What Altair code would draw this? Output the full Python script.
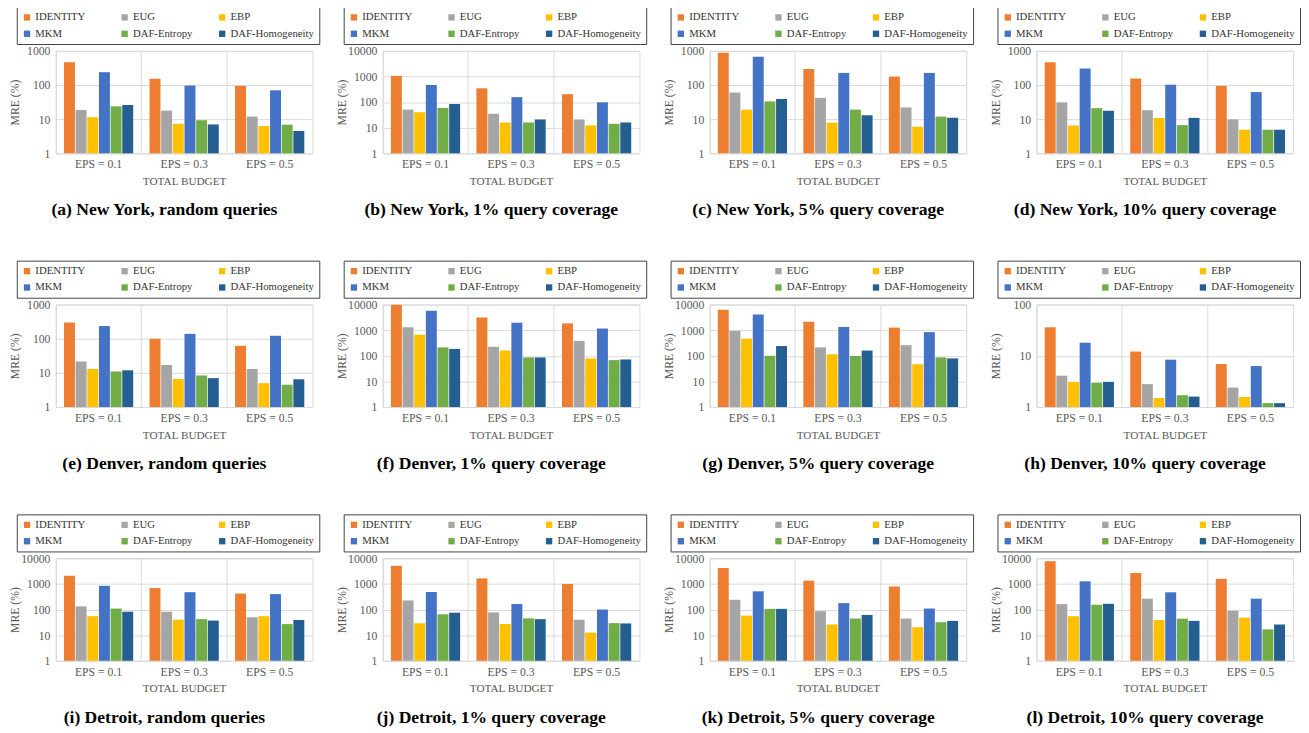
import math
import altair as alt
import pandas as pd

METHODS = ["IDENTITY", "EUG", "EBP", "MKM", "DAF-Entropy", "DAF-Homogeneity"]
COLORS = ["#ED7D31", "#A5A5A5", "#FFC000", "#4472C4", "#70AD47", "#255E91"]
EPS = ["EPS = 0.1", "EPS = 0.3", "EPS = 0.5"]

# rows: EPS = 0.1 / 0.3 / 0.5 ; columns: METHODS order
ny_random = [[460, 18.6, 11.4, 237, 23.7, 26.0], [152, 17.8, 7.3, 96, 9.3, 7.0], [94, 11.9, 6.3, 70, 6.9, 4.5]]
ny_1 = [[1050, 51, 40, 464, 59, 84], [345, 35, 16, 156, 16, 21], [203, 21, 12.4, 98, 14.2, 16]]
ny_5 = [[877, 60, 19, 675, 33, 39], [295, 42, 7.9, 226, 19, 13], [177, 22, 6.0, 226, 11.9, 11]]
ny_10 = [[462, 31, 6.5, 303, 21, 17.6], [155, 18.3, 10.9, 102, 6.7, 10.9], [94, 9.8, 4.9, 62, 4.9, 4.9]]
den_random = [[299, 21.5, 13, 235, 11, 11.9], [100, 17, 6.6, 139, 8.4, 7.0], [62, 13, 5.0, 122, 4.5, 6.5]]
den_1 = [[9800, 1300, 665, 5700, 213, 185], [3100, 226, 160, 1950, 86, 86], [1840, 383, 79, 1160, 68, 72]]
den_5 = [[6300, 945, 470, 4060, 100, 240], [2130, 213, 116, 1340, 98, 160], [1260, 260, 47, 840, 86, 79]]
den_10 = [[36, 4.1, 3.1, 18, 3.0, 3.1], [12.1, 2.8, 1.5, 8.4, 1.7, 1.6], [6.9, 2.4, 1.57, 6.3, 1.19, 1.19]]
det_random = [[2100, 133, 55, 840, 109, 82], [690, 82, 40, 475, 42, 37], [420, 50, 55, 400, 27, 39]]
det_1 = [[5100, 226, 29, 482, 65, 75], [1640, 77, 27, 164, 45, 42], [1000, 40, 12.6, 100, 29.5, 28.6]]
det_5 = [[4150, 240, 58, 513, 106, 106], [1340, 86, 26, 178, 44.5, 61], [793, 44.5, 20.4, 109, 32, 36]]
det_10 = [[7700, 163, 55, 1260, 154, 167], [2640, 265, 39, 470, 44, 36], [1580, 89, 48, 265, 16.8, 26]]

PANELS = [
    (ny_random, 1000, "(a) New York, random queries"),
    (ny_1, 10000, "(b) New York, 1% query coverage"),
    (ny_5, 1000, "(c) New York, 5% query coverage"),
    (ny_10, 1000, "(d) New York, 10% query coverage"),
    (den_random, 1000, "(e) Denver, random queries"),
    (den_1, 10000, "(f) Denver, 1% query coverage"),
    (den_5, 10000, "(g) Denver, 5% query coverage"),
    (den_10, 100, "(h) Denver, 10% query coverage"),
    (det_random, 10000, "(i) Detroit, random queries"),
    (det_1, 10000, "(j) Detroit, 1% query coverage"),
    (det_5, 10000, "(k) Detroit, 5% query coverage"),
    (det_10, 10000, "(l) Detroit, 10% query coverage"),
]

SERIF = "Liberation Serif"


def panel(values, top, caption):
    rows = []
    for e, vals in zip(EPS, values):
        for m, v in zip(METHODS, vals):
            rows.append({"eps": e, "method": m, "v": v})
    df = pd.DataFrame(rows)
    ticks = [10 ** k for k in range(int(round(math.log10(top))) + 1)]
    return alt.Chart(df).mark_bar().encode(
        x=alt.X("eps:N", sort=EPS,
                scale=alt.Scale(paddingInner=0, paddingOuter=0),
                axis=alt.Axis(title="TOTAL BUDGET", labelAngle=0, bandPosition=0, grid=True,
                              ticks=False, domain=False, labelPadding=6, titlePadding=6,
                              labelFontSize=12, titleFontSize=11.5)),
        xOffset=alt.XOffset("method:N", sort=METHODS,
                            scale=alt.Scale(paddingOuter=0.7, paddingInner=0.06)),
        y=alt.Y("v:Q", scale=alt.Scale(type="log", domain=[1, top], nice=False),
                axis=alt.Axis(title="MRE (%)", values=ticks, format="d", grid=True, ticks=False,
                              domain=False, labelPadding=6, minExtent=34, maxExtent=34,
                              titlePadding=1, labelFontSize=12, titleFontSize=12)),
        y2=alt.datum(1),
        color=alt.Color("method:N", sort=METHODS,
                        scale=alt.Scale(domain=METHODS, range=COLORS),
                        legend=alt.Legend(title=None, orient="none", legendX=-40, legendY=-45,
                                          direction="horizontal",
                                          columns=3, gridAlign="all", symbolType="square",
                                          symbolSize=42, symbolStrokeWidth=0,
                                          labelFont=SERIF, labelFontSize=11, labelColor="#333333",
                                          strokeColor="#404040", fillColor="white", padding=5,
                                          columnPadding=0, rowPadding=5, labelOffset=3)),
    ).properties(
        width=263, height=105,
        title=alt.TitleParams(caption, orient="bottom", anchor="middle", frame="bounds",
                              font=SERIF, fontSize=18, fontWeight="bold", color="black", offset=15),
    )


charts = [panel(*p) for p in PANELS]


def indep(c):
    return c.resolve_scale(color="independent", x="independent", y="independent",
                           xOffset="independent").resolve_legend(color="independent")


rows = [indep(alt.hconcat(*charts[i * 4:(i + 1) * 4], spacing=15)) for i in range(3)]
chart = indep(alt.vconcat(*rows, spacing=41)).properties(
    padding={"top": -11, "bottom": -8, "left": 0, "right": 0}
).configure_view(
    stroke="#d9d9d9"
).configure_axis(
    labelFont=SERIF, titleFont=SERIF, labelColor="#595959", titleColor="#595959",
    titleFontWeight="normal", gridColor="#d9d9d9", gridWidth=1
)

chart.save("out.html", embed_options={"renderer": "svg", "actions": False})
